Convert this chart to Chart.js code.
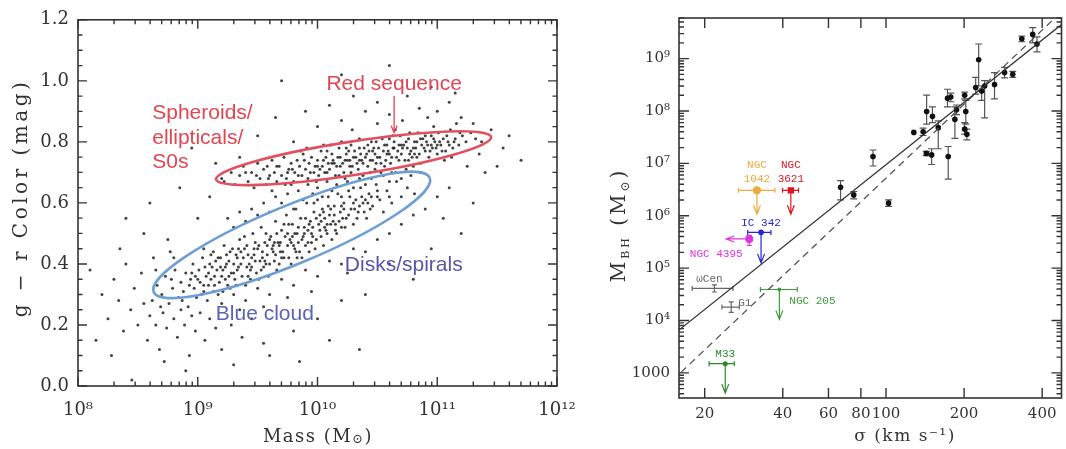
<!DOCTYPE html>
<html>
<head>
<meta charset="utf-8">
<script src="https://cdn.jsdelivr.net/npm/chart.js@4"></script>
<style>
  body { margin: 0; background: #fff; width: 1066px; height: 449px; overflow: hidden; position: relative; }
  #left { position: absolute; left: 0; top: 0; }
  #right { position: absolute; left: 595px; top: 0; }
</style>
</head>
<body>
<canvas id="left" width="595" height="449"></canvas>
<canvas id="right" width="471" height="449"></canvas>
<script>
// ---------- left panel: g-r colour vs stellar mass ----------
const massTicks = [1e8, 1e9, 1e10, 1e11, 1e12];
const massTickLabels = ['10⁸', '10⁹', '10¹⁰', '10¹¹', '10¹²'];
const colorTicks = [0, 0.2, 0.4, 0.6, 0.8, 1.0, 1.2];
const colorTickLabels = ['0.0', '0.2', '0.4', '0.6', '0.8', '1.0', '1.2'];

// galaxies as [log10 mass, g-r]
const redSequence = [
  [9.22,.67],[9.28,.70],[9.31,.66],[9.35,.69],[9.38,.72],[9.42,.67],[9.45,.70],[9.47,.65],[9.50,.73],[9.52,.68],
  [9.55,.71],[9.57,.66],[9.60,.69],[9.62,.74],[9.64,.70],[9.66,.67],[9.68,.72],[9.70,.69],[9.72,.75],[9.74,.68],
  [9.76,.71],[9.78,.73],[9.80,.67],[9.81,.70],[9.83,.74],[9.85,.72],[9.87,.69],[9.88,.76],[9.90,.71],[9.92,.68],
  [9.93,.73],[9.95,.75],[9.97,.70],[9.98,.72],[10.00,.74],[10.01,.69],[10.03,.77],[10.04,.72],[10.06,.70],[10.07,.75],
  [10.09,.73],[10.10,.71],[10.12,.76],[10.13,.74],[10.15,.69],[10.16,.72],[10.18,.78],[10.19,.75],[10.21,.73],[10.22,.70],
  [10.24,.76],[10.25,.74],[10.27,.72],[10.28,.79],[10.30,.75],[10.31,.77],[10.33,.73],[10.34,.71],[10.36,.76],[10.37,.74],
  [10.39,.78],[10.40,.75],[10.42,.72],[10.43,.77],[10.45,.80],[10.46,.74],[10.48,.76],[10.49,.73],[10.51,.78],[10.52,.75],
  [10.54,.81],[10.55,.77],[10.57,.74],[10.58,.79],[10.60,.76],[10.61,.73],[10.63,.78],[10.64,.80],[10.66,.75],[10.67,.77],
  [10.69,.82],[10.70,.76],[10.72,.79],[10.73,.74],[10.75,.78],[10.76,.81],[10.78,.77],[10.79,.75],[10.81,.80],[10.82,.78],
  [10.84,.83],[10.85,.76],[10.87,.79],[10.88,.81],[10.90,.77],[10.91,.80],[10.93,.75],[10.95,.82],[10.96,.78],[10.98,.80],
  [11.00,.76],[11.01,.83],[11.03,.79],[11.05,.81],[11.07,.77],[11.09,.80],[11.11,.84],[11.13,.78],[11.15,.81],[11.18,.79],
  [11.21,.82],[11.24,.80],[11.28,.83],[11.32,.81],[11.37,.80],
  [9.58,.72],[9.73,.66],[9.86,.77],[9.99,.67],[10.11,.79],[10.23,.68],[10.35,.81],[10.44,.70],[10.56,.72],[10.65,.84],
  [10.74,.71],[10.86,.73],[10.97,.85],[11.06,.74],[11.16,.86],[10.29,.84],[10.50,.86],[10.71,.87],[10.92,.88],[11.12,.75],
  [10.38,.69],[10.62,.70],[10.80,.72],[10.20,.80],[10.05,.79],[9.91,.78],
  [10.02,.71],[10.05,.74],[10.08,.70],[10.14,.73],[10.17,.75],[10.23,.74],[10.26,.77],[10.29,.72],[10.32,.75],[10.35,.78],
  [10.38,.73],[10.41,.76],[10.44,.74],[10.47,.78],[10.50,.75],[10.53,.73],[10.56,.79],[10.59,.77],[10.62,.75],[10.64,.78],
  [10.68,.74],[10.71,.78],[10.74,.80],[10.77,.76],[10.80,.78],[10.83,.75],[10.86,.81],[10.89,.78],[10.92,.79],[10.94,.77],
  [10.97,.81],[10.99,.78],[11.02,.80],[11.04,.77],[11.08,.82],[11.10,.79],[11.14,.80],[11.19,.83],[10.42,.79],[10.53,.70],
  [10.60,.81],[10.68,.79],[10.76,.74],[10.83,.80],[10.90,.82],[10.27,.74],[10.19,.72],[10.12,.73],[9.94,.70],[9.84,.69],
  [9.75,.70],[9.66,.72],[9.59,.68],[9.49,.69],[9.40,.70],[10.46,.77],[10.58,.76],[10.70,.79],[10.81,.76],[10.95,.79],
  [10.35,.74],[10.24,.78],[10.08,.77],[10.00,.72],[9.89,.74],[9.79,.71],[10.49,.80],[10.63,.82],[10.77,.83],[11.00,.79]
];
const blueCloud = [
  [8.62,.28],[8.66,.33],[8.70,.30],[8.73,.36],[8.76,.27],[8.79,.32],[8.81,.38],[8.84,.29],[8.86,.34],[8.88,.31],
  [8.90,.37],[8.92,.26],[8.94,.35],[8.96,.40],[8.97,.32],[8.99,.29],[9.01,.38],[9.02,.34],[9.04,.42],[9.05,.31],
  [9.07,.36],[9.08,.28],[9.10,.40],[9.11,.35],[9.13,.44],[9.14,.33],[9.16,.38],[9.17,.30],[9.19,.42],[9.20,.36],
  [9.22,.46],[9.23,.39],[9.25,.33],[9.26,.41],[9.28,.37],[9.29,.45],[9.31,.35],[9.32,.43],[9.34,.39],[9.35,.48],
  [9.37,.36],[9.38,.42],[9.40,.33],[9.41,.46],[9.43,.40],[9.44,.38],[9.46,.50],[9.47,.43],[9.49,.37],[9.50,.45],
  [9.52,.41],[9.53,.52],[9.55,.39],[9.56,.47],[9.58,.43],[9.59,.36],[9.61,.49],[9.62,.45],[9.64,.41],[9.65,.54],
  [9.67,.47],[9.68,.40],[9.70,.51],[9.71,.44],[9.73,.49],[9.74,.56],[9.76,.42],[9.77,.48],[9.79,.53],[9.80,.46],
  [9.82,.58],[9.83,.50],[9.85,.44],[9.86,.55],[9.88,.49],[9.89,.52],[9.91,.60],[9.92,.47],[9.94,.54],[9.95,.50],
  [9.97,.57],[9.98,.45],[10.00,.61],[10.01,.53],[10.03,.49],[10.04,.58],[10.06,.55],[10.07,.51],[10.09,.62],[10.10,.56],
  [10.12,.48],[10.14,.59],[10.15,.53],[10.17,.63],[10.19,.57],[10.20,.52],[10.22,.60],[10.24,.55],[10.26,.64],[10.28,.58],
  [10.30,.53],[10.32,.61],[10.34,.57],[10.36,.65],[10.38,.60],[10.41,.55],[10.43,.63],[10.46,.59],[10.49,.66],[10.52,.61],
  [10.55,.57],[10.58,.64],[10.62,.60],[10.66,.67],[10.70,.62],[10.75,.65],[10.81,.63],
  [9.12,.39],[9.18,.34],[9.24,.43],[9.27,.32],[9.33,.38],[9.36,.44],[9.42,.36],[9.45,.42],[9.48,.47],[9.51,.35],
  [9.54,.44],[9.57,.50],[9.60,.40],[9.63,.46],[9.66,.38],[9.69,.44],[9.72,.53],[9.75,.46],[9.78,.40],[9.81,.50],
  [9.84,.47],[9.87,.42],[9.90,.55],[9.93,.44],[9.96,.52],[9.99,.48],[10.02,.56],[10.05,.46],[10.08,.53],[10.11,.58],
  [10.16,.50],[10.21,.55],[10.27,.62],[10.33,.55],[10.39,.57],[10.45,.62],[9.03,.30],[9.09,.33],[9.15,.41],[9.21,.31],
  [8.95,.37],[8.87,.28],[8.78,.35],[8.69,.26],[9.30,.40],[9.39,.49],[9.65,.43],[9.82,.44],[9.97,.60],[10.13,.54],
  [9.00,.35],[9.06,.39],[9.09,.37],[9.14,.36],[9.17,.42],[9.21,.38],[9.24,.40],[9.27,.44],[9.30,.37],[9.33,.42],
  [9.36,.40],[9.39,.45],[9.42,.43],[9.45,.39],[9.48,.41],[9.51,.46],[9.54,.42],[9.57,.40],[9.60,.48],[9.63,.44],
  [9.66,.50],[9.69,.47],[9.72,.42],[9.75,.50],[9.78,.47],[9.81,.45],[9.84,.52],[9.87,.48],[9.90,.46],[9.93,.53],
  [9.96,.49],[9.99,.55],[10.02,.51],[10.05,.57],[10.08,.50],[10.11,.53],[10.14,.56],[10.18,.54],[10.22,.58],[10.26,.56],
  [10.30,.60],[10.35,.59],[10.40,.61],[10.44,.58],[10.50,.62],[9.11,.43],[9.19,.39],[9.26,.36],[9.34,.45],[9.41,.39],
  [9.47,.45],[9.53,.38],[9.58,.46],[9.64,.47],[9.70,.42],[9.76,.53],[9.83,.42],[9.89,.50],[9.95,.47],[10.03,.54],
  [10.09,.59],[10.15,.51],[10.23,.52],[10.31,.58],[10.37,.62],[8.93,.33],[8.98,.36],[9.05,.33],[9.13,.31],[9.23,.35],
  [9.32,.33],[9.44,.35],[9.56,.41],[9.68,.46],[9.79,.49],[9.92,.51],[10.06,.52],[10.20,.59],[10.42,.60],[10.60,.62]
];
const greenValley = [
  [9.70,.60],[9.75,.63],[9.80,.58],[9.84,.64],[9.88,.61],[9.92,.66],[9.96,.63],[10.00,.65],[10.04,.62],[10.08,.67],
  [10.12,.64],[10.16,.66],[10.20,.62],[10.25,.67],[10.30,.65],[10.35,.68],[10.40,.66],[10.45,.68],[10.50,.64],[10.55,.69],
  [10.60,.67],[10.65,.70],[10.70,.68],[10.78,.69],[10.86,.70],[9.50,.56],[9.55,.60],[9.60,.57],[9.65,.62],[9.45,.58],
  [9.40,.54],[9.35,.57],[9.30,.52],[9.25,.55],[10.18,.69],[10.28,.70],[10.48,.71],[9.62,.64],[9.78,.66],
  [9.20,.27],[9.30,.30],[9.40,.28],[9.50,.32],[9.60,.30],[9.70,.35],[9.80,.33],[9.90,.38],[10.00,.36],[10.10,.41],
  [10.20,.40],[10.30,.45],[10.40,.44],[10.50,.48],[10.60,.50],[10.70,.53],[10.80,.56],[10.90,.58],[11.00,.62],[11.10,.65],
  [9.35,.25],[9.55,.26],[9.75,.29],[9.95,.31],[10.25,.37]
];
const scattered = [
  [8.20,.30],[8.25,.22],[8.30,.35],[8.34,.28],[8.38,.18],[8.40,.40],[8.44,.25],[8.47,.32],[8.50,.20],[8.53,.37],
  [8.55,.27],[8.58,.15],[8.60,.23],[8.63,.42],[8.65,.20],[8.68,.12],[8.71,.24],[8.74,.19],[8.77,.44],[8.80,.22],
  [8.83,.16],[8.86,.25],[8.89,.20],[8.93,.10],[8.95,.23],[8.98,.18],[9.02,.24],[9.06,.15],[9.10,.22],[9.15,.19],
  [9.20,.12],[9.28,.20],[9.37,.16],[9.45,.22],[9.55,.14],[8.72,.08],[8.90,.05],[9.30,.07],[9.60,.10],[9.80,.18],
  [10.00,.22],[10.20,.28],[8.35,.45],[8.55,.50],[8.75,.48],[8.15,.15],[8.28,.10],[8.10,.38],
  [9.00,.55],[9.10,.62],[9.20,.68],[9.35,.75],[9.50,.82],[9.65,.88],[9.80,.80],[9.90,.90],[10.00,.85],[10.10,.92],
  [10.20,.87],[10.30,.95],[10.40,.90],[10.50,.93],[10.60,.89],[10.75,.95],[10.85,.91],[11.00,.90],[11.10,.93],[11.20,.88],
  [11.30,.86],[11.45,.84],[11.55,.78],[11.50,.72],[11.40,.70],[11.25,.72],[11.35,.76],[11.60,.82],[9.70,1.00],[10.20,1.02],
  [10.60,1.05],[10.95,.98],[11.15,.96],[8.60,.60],[8.85,.65],[9.15,.73],[8.40,.55],[8.95,.78],[11.05,.55],[11.30,.60],
  [10.95,.45],[11.20,.50],[10.60,.40],[10.80,.35],[10.40,.30],[10.10,.15],[9.85,.08],[8.45,.02],[9.05,.45],[8.65,.38],
  [8.80,.42],[11.70,.74],[10.35,.12]
];

// outlines: ends of the long axis [log10 mass, g-r] and the half width in g-r
const redEllipseEnds = [[9.153, 0.677], [11.45, 0.816]];
const redEllipseHalf = 0.055;
const blueEllipseEnds = [[8.632, 0.308], [10.937, 0.682]];
const blueEllipseHalf = 0.096;

// ---------- right panel: M_BH vs sigma ----------
const sigmaTicks = [20, 40, 60, 80, 100, 200, 400];
const sigmaTickLabels = ['20', '40', '60', '80', '100', '200', '400'];
const bhTicks = [1e3, 1e4, 1e5, 1e6, 1e7, 1e8, 1e9];
const bhTickLabels = ['1000', '10⁴', '10⁵', '10⁶', '10⁷', '10⁸', '10⁹'];

const bhSigma = [66.8, 75.1, 89.1, 102.3, 128, 139, 143.4, 143, 149.9, 151, 159, 172.6, 177.7, 173.7, 184.3,
                 187, 201, 203, 201, 205, 227.6, 221.7, 233.8, 240, 262, 286.4, 308, 333.8, 367.7, 382];
const bhMass = [3.5e6, 2.5e6, 1.35e7, 1.74e6, 3.9e7, 4.0e7, 9.8e7, 1.55e7, 1.45e7, 7.9e7, 4.8e7, 1.75e8, 1.85e8, 1.35e7, 6.9e7,
                1.05e8, 2.0e8, 9.8e7, 4.5e7, 3.6e7, 9.5e8, 2.8e8, 2.4e8, 3.0e8, 3.2e8, 5.4e8, 5.0e8, 2.4e9, 2.9e9, 1.9e9];
const bhMassLo = [2.0e6, 2.1e6, 8.9e6, 1.5e6, 3.9e7, 3.4e7, 5.6e7, 1.4e7, 9.5e6, 6.0e7, 1.9e7, 1.2e8, 1.5e8, 5.0e6, 3.0e7,
                  8.5e7, 1.7e8, 5.6e7, 3.6e7, 2.8e7, 3.0e8, 2.1e8, 1.6e8, 7.4e7, 1.7e8, 4.3e8, 4.4e8, 2.1e9, 2.0e9, 1.35e9];
const bhMassHi = [4.7e6, 2.9e6, 1.8e7, 2.0e6, 3.9e7, 4.7e7, 2.0e8, 1.7e7, 1.9e7, 1.2e8, 6.5e7, 2.6e8, 2.2e8, 2.1e7, 1.2e8,
                  1.3e8, 2.3e8, 1.6e8, 6.0e7, 4.5e7, 1.9e9, 4.4e8, 3.0e8, 3.8e8, 5.4e8, 6.8e8, 5.7e8, 2.7e9, 3.9e9, 2.6e9];

// named low-mass objects
const objNames = [['NGC', '1042'], ['NGC', '3621'], ['IC 342'], ['NGC 4395'], ['ωCen'], ['G1'], ['NGC 205'], ['M33']];
const objColors = ['#eda93c', '#e0141e', '#2626d6', '#e032e0', '#666666', '#666666', '#3c9c3c', '#2a8a2a'];
const objSigma = [31.8, 42.96, 32.98, 29.7, 21.8, 25.3, 38.8, 24.0];
const objMass = [3.05e6, 3.05e6, 4.8e5, 3.6e5, 4.1e4, 1.8e4, 3.9e4, 1.5e3];
const objSigmaLo = [27, 39.9, 29.3, null, 17.9, 23.3, 32.8, 20.8];
const objSigmaHi = [37.3, 46, 36.0, null, 25.7, 27.2, 45.5, 26.0];
const objMassLo = [null, null, null, 2.7e5, 3.5e4, 1.43e4, null, null];
const objMassHi = [null, null, null, 4.2e5, 4.8e4, 2.27e4, null, null];
const objLimitMass = [1.07e6, 1.07e6, 1.26e5, null, null, null, 1.05e4, 4.1e2];   // upper limits, arrow down
const objLimitSigma = [null, null, null, 24.2, null, null, null, null];          // arrow to the left

// fitted relations, end points
const fitSolid = [[15, 5.2e3], [500, 5.5e9]];
const fitDashed = [[15, 7.1e2], [500, 1.0e10]];

const SERIF = "'DejaVu Serif', serif";
const AXIS = '#333';

function logPts(list) {
  return list.map(p => ({ x: Math.pow(10, p[0]), y: p[1] }));
}

// minor ticks for a log axis
function logMinors(from, to) {
  const out = [];
  for (let e = from; e < to; e++) for (let d = 2; d <= 9; d++) out.push(d * Math.pow(10, e));
  return out;
}

// frame with inward ticks on all four sides, IDL style
function framePlugin(cfg) {
  return {
    id: 'frame',
    afterDatasetsDraw(chart) {
      const { ctx, chartArea: a, scales: { x, y } } = chart;
      ctx.save();
      ctx.strokeStyle = AXIS;
      ctx.lineWidth = 1.4;
      ctx.beginPath();
      const xt = (vals, len) => vals.forEach(v => {
        const p = x.getPixelForValue(v);
        if (p < a.left - 1 || p > a.right + 1) return;
        ctx.moveTo(p, a.bottom); ctx.lineTo(p, a.bottom - len);
        ctx.moveTo(p, a.top); ctx.lineTo(p, a.top + len);
      });
      const yt = (vals, len) => vals.forEach(v => {
        const p = y.getPixelForValue(v);
        if (p < a.top - 1 || p > a.bottom + 1) return;
        ctx.moveTo(a.left, p); ctx.lineTo(a.left + len, p);
        ctx.moveTo(a.right, p); ctx.lineTo(a.right - len, p);
      });
      xt(cfg.xMajor, cfg.major); xt(cfg.xMinor, cfg.minor);
      yt(cfg.yMajor, cfg.major); yt(cfg.yMinor, cfg.minor);
      ctx.stroke();
      ctx.lineWidth = 1.6;
      ctx.strokeRect(a.left, a.top, a.right - a.left, a.bottom - a.top);
      ctx.restore();
    }
  };
}

// text made of pieces with their own size and vertical shift
function richText(ctx, parts, cx, cy, rotate, spacing) {
  ctx.save();
  ctx.translate(cx, cy);
  if (rotate) ctx.rotate(-Math.PI / 2);
  ctx.letterSpacing = spacing + 'px';
  let total = 0;
  parts.forEach(p => { ctx.font = p.size + 'px ' + SERIF; p.w = ctx.measureText(p.t).width; total += p.w; });
  let x = -total / 2;
  ctx.fillStyle = AXIS;
  ctx.textBaseline = 'middle';
  ctx.textAlign = 'left';
  parts.forEach(p => { ctx.font = p.size + 'px ' + SERIF; ctx.fillText(p.t, x, p.dy || 0); x += p.w; });
  ctx.restore();
}

function fixedTicks(vals) {
  return s => { s.ticks = vals.map(v => ({ value: v })); };
}

// ---------- left chart ----------
const leftNotes = {
  id: 'leftNotes',
  afterDatasetsDraw(chart) {
    const { ctx, scales: { x, y } } = chart;
    const px = m => x.getPixelForValue(Math.pow(10, m));
    const ell = (ends, half, color) => {
      const x1 = px(ends[0][0]), y1 = y.getPixelForValue(ends[0][1]);
      const x2 = px(ends[1][0]), y2 = y.getPixelForValue(ends[1][1]);
      const b = y.getPixelForValue(0) - y.getPixelForValue(half);
      ctx.beginPath();
      ctx.ellipse((x1 + x2) / 2, (y1 + y2) / 2, Math.hypot(x2 - x1, y2 - y1) / 2, b, Math.atan2(y2 - y1, x2 - x1), 0, Math.PI * 2);
      ctx.strokeStyle = color;
      ctx.lineWidth = 2.6;
      ctx.stroke();
    };
    ctx.save();
    ell(blueEllipseEnds, blueEllipseHalf, '#6d9fd5');
    ell(redEllipseEnds, redEllipseHalf, '#e0505f');

    ctx.font = "21px 'Liberation Sans', Arial, sans-serif";
    ctx.textBaseline = 'middle';
    ctx.fillStyle = '#e04652';
    ctx.textAlign = 'center';
    ctx.fillText('Red sequence', px(10.64), y.getPixelForValue(0.99));
    ctx.textAlign = 'left';
    ctx.fillText('Spheroids/', px(8.62), y.getPixelForValue(0.895));
    ctx.fillText('ellipticals/', px(8.62), y.getPixelForValue(0.813));
    ctx.fillText('S0s', px(8.62), y.getPixelForValue(0.733));
    // arrow down to the red sequence
    const ax = px(10.64), ay0 = y.getPixelForValue(0.95), ay1 = y.getPixelForValue(0.83);
    ctx.strokeStyle = '#e04652';
    ctx.lineWidth = 1.3;
    ctx.beginPath();
    ctx.moveTo(ax, ay0); ctx.lineTo(ax, ay1);
    ctx.moveTo(ax - 3, ay1 - 7); ctx.lineTo(ax, ay1); ctx.lineTo(ax + 3, ay1 - 7);
    ctx.stroke();

    ctx.textAlign = 'center';
    ctx.fillStyle = '#5656a8';
    ctx.fillText('Disks/spirals', px(10.72), y.getPixelForValue(0.395));
    ctx.fillStyle = '#5c62b6';
    ctx.fillText('Blue cloud', px(9.56), y.getPixelForValue(0.234));

    richText(ctx, [{ t: 'Mass (M', size: 18 }, { t: '⊙', size: 13, dy: 3 }, { t: ')', size: 18 }], 318, 437, false, 1.5);
    richText(ctx, [{ t: 'g − r Color (mag)', size: 20 }], 22, 198, true, 3.5);
    ctx.restore();
  }
};

new Chart(document.getElementById('left'), {
  type: 'scatter',
  data: {
    datasets: [{
      data: logPts([...scattered, ...greenValley, ...blueCloud, ...redSequence]),
      pointRadius: 1.5,
      pointBorderWidth: 0,
      backgroundColor: 'rgba(20,20,20,0.8)',
      borderColor: 'rgba(20,20,20,0.8)'
    }]
  },
  options: {
    responsive: false,
    animation: false,
    events: [],
    layout: { padding: { top: 11, right: 38, left: 0, bottom: 0 } },
    plugins: { legend: { display: false }, tooltip: { enabled: false } },
    scales: {
      x: {
        type: 'logarithmic', min: 1e8, max: 1e12,
        grid: { display: false, drawTicks: false }, border: { display: false },
        afterBuildTicks: fixedTicks(massTicks),
        afterFit: s => { s.height = 63; },
        ticks: { autoSkip: false, maxRotation: 0, padding: 14, color: AXIS, font: { family: SERIF, size: 18 },
                 callback: (v, i) => massTickLabels[i] }
      },
      y: {
        type: 'linear', min: 0, max: 1.2,
        grid: { display: false, drawTicks: false }, border: { display: false },
        afterBuildTicks: fixedTicks(colorTicks),
        afterFit: s => { s.width = 78; },
        ticks: { autoSkip: false, padding: 9, color: AXIS, font: { family: SERIF, size: 18 },
                 callback: (v, i) => colorTickLabels[i] }
      }
    }
  },
  plugins: [leftNotes, framePlugin({
    xMajor: massTicks, xMinor: logMinors(8, 12),
    yMajor: colorTicks, yMinor: [0.05, 0.1, 0.15, 0.25, 0.3, 0.35, 0.45, 0.5, 0.55, 0.65, 0.7, 0.75, 0.85, 0.9, 0.95, 1.05, 1.1, 1.15],
    major: 9, minor: 4.5
  })]
});

// ---------- right chart ----------
const errorBars = {
  id: 'errorBars',
  beforeDatasetsDraw(chart) {
    const { ctx, scales: { x, y } } = chart;
    ctx.save();
    ctx.lineWidth = 1.2;
    ctx.strokeStyle = '#555';
    ctx.beginPath();
    bhSigma.forEach((s, i) => {
      const px = x.getPixelForValue(s);
      const lo = y.getPixelForValue(bhMassLo[i]), hi = y.getPixelForValue(bhMassHi[i]);
      if (Math.abs(lo - hi) < 1) return;
      ctx.moveTo(px, lo); ctx.lineTo(px, hi);
      ctx.moveTo(px - 3.5, lo); ctx.lineTo(px + 3.5, lo);
      ctx.moveTo(px - 3.5, hi); ctx.lineTo(px + 3.5, hi);
    });
    ctx.stroke();

    objSigma.forEach((s, i) => {
      const px = x.getPixelForValue(s), py = y.getPixelForValue(objMass[i]);
      ctx.strokeStyle = objColors[i];
      ctx.fillStyle = objColors[i];
      ctx.lineWidth = 1.2;
      ctx.beginPath();
      if (objSigmaLo[i] !== null) {
        const l = x.getPixelForValue(objSigmaLo[i]), r = x.getPixelForValue(objSigmaHi[i]);
        ctx.moveTo(l, py); ctx.lineTo(r, py);
        ctx.moveTo(l, py - 2.5); ctx.lineTo(l, py + 2.5);
        ctx.moveTo(r, py - 2.5); ctx.lineTo(r, py + 2.5);
      }
      if (objMassLo[i] !== null) {
        const lo = y.getPixelForValue(objMassLo[i]), hi = y.getPixelForValue(objMassHi[i]);
        ctx.moveTo(px, lo); ctx.lineTo(px, hi);
        ctx.moveTo(px - 2.5, lo); ctx.lineTo(px + 2.5, lo);
        ctx.moveTo(px - 2.5, hi); ctx.lineTo(px + 2.5, hi);
      }
      if (objLimitMass[i] !== null) {
        const end = y.getPixelForValue(objLimitMass[i]);
        ctx.moveTo(px, py); ctx.lineTo(px, end);
        ctx.moveTo(px - 3.5, end - 9); ctx.lineTo(px, end); ctx.lineTo(px + 3.5, end - 9);
      }
      if (objLimitSigma[i] !== null) {
        const end = x.getPixelForValue(objLimitSigma[i]);
        ctx.moveTo(px, py); ctx.lineTo(end, py);
        ctx.moveTo(end + 8, py - 3); ctx.lineTo(end, py); ctx.lineTo(end + 8, py + 3);
      }
      ctx.stroke();
    });
    ctx.restore();
  },
  afterDatasetsDraw(chart) {
    const { ctx, scales: { x, y } } = chart;
    // where each name sits relative to its point: dx, dy of first line, alignment
    const place = [[0, -25, 'center'], [0, -25, 'center'], [0, -9, 'center'], [-33, 15, 'center'],
                   [-5, -9, 'center'], [7, -4, 'left'], [10, 12, 'left'], [0, -10, 'center']];
    ctx.save();
    ctx.font = "11px 'Liberation Mono', monospace";
    ctx.textBaseline = 'middle';
    objNames.forEach((lines, i) => {
      const px = x.getPixelForValue(objSigma[i]), py = y.getPixelForValue(objMass[i]);
      ctx.fillStyle = objColors[i];
      ctx.textAlign = place[i][2];
      lines.forEach((t, k) => ctx.fillText(t, px + place[i][0], py + place[i][1] + k * 14));
    });
    richText(ctx, [{ t: 'σ (km s⁻¹)', size: 17 }], 310, 437, false, 1.5);
    richText(ctx, [{ t: 'M', size: 20 }, { t: 'BH', size: 11, dy: 6 }, { t: ' (M', size: 20 }, { t: '⊙', size: 12, dy: 6 }, { t: ')', size: 20 }],
             25, 225, true, 3);
    ctx.restore();
  }
};

const objStyle = ['circle', 'rect', 'circle', 'circle', 'circle', 'circle', 'circle', 'circle'];
const objRadius = [4, 4.5, 2.8, 4, 0, 0, 2, 2.5];

new Chart(document.getElementById('right'), {
  type: 'scatter',
  data: {
    datasets: [
      { data: fitSolid.map(p => ({ x: p[0], y: p[1] })), showLine: true, borderColor: '#333', borderWidth: 1.3, pointRadius: 0 },
      { data: fitDashed.map(p => ({ x: p[0], y: p[1] })), showLine: true, borderColor: '#555', borderWidth: 1.3,
        borderDash: [7, 5], pointRadius: 0 },
      { data: bhSigma.map((s, i) => ({ x: s, y: bhMass[i] })), pointRadius: 2.8, pointBorderWidth: 0,
        backgroundColor: '#111', borderColor: '#111' },
      ...objSigma.map((s, i) => ({
        data: [{ x: s, y: objMass[i] }], pointStyle: objStyle[i], pointRadius: objRadius[i], pointBorderWidth: 0,
        backgroundColor: objColors[i], borderColor: objColors[i]
      }))
    ]
  },
  options: {
    responsive: false,
    animation: false,
    events: [],
    layout: { padding: { top: 5, right: 2, left: 0, bottom: 0 } },
    plugins: { legend: { display: false }, tooltip: { enabled: false } },
    scales: {
      x: {
        type: 'logarithmic', min: 15.92, max: 474.8,
        grid: { display: false, drawTicks: false }, border: { display: false },
        afterBuildTicks: fixedTicks(sigmaTicks),
        afterFit: s => { s.height = 51; },
        ticks: { autoSkip: false, maxRotation: 0, padding: 7, color: AXIS, font: { family: SERIF, size: 15 },
                 callback: (v, i) => sigmaTickLabels[i] }
      },
      y: {
        type: 'logarithmic', min: 331, max: 5.96e9,
        grid: { display: false, drawTicks: false }, border: { display: false },
        afterBuildTicks: fixedTicks(bhTicks),
        afterFit: s => { s.width = 84; },
        ticks: { autoSkip: false, padding: 9, color: AXIS, font: { family: SERIF, size: 15 },
                 callback: (v, i) => bhTickLabels[i] }
      }
    }
  },
  plugins: [errorBars, framePlugin({
    xMajor: sigmaTicks, xMinor: [],
    yMajor: bhTicks, yMinor: logMinors(2, 10),
    major: 10, minor: 5
  })]
});
</script>
</body>
</html>
